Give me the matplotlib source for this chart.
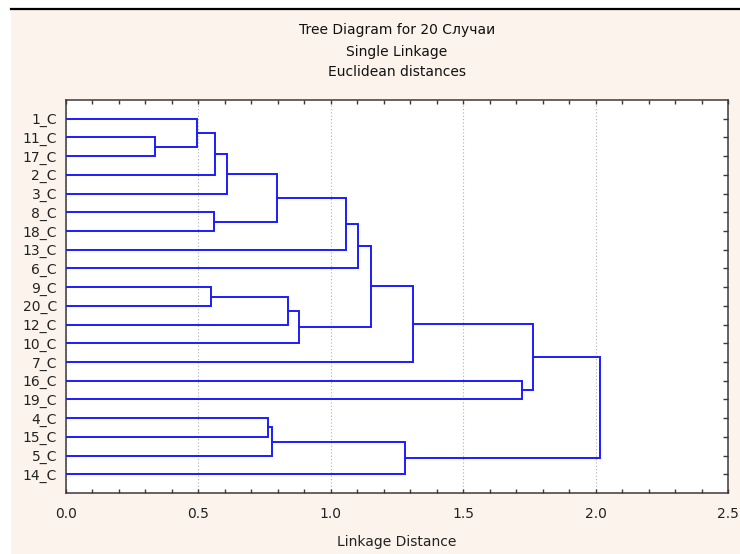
import matplotlib
matplotlib.use("Agg")
import matplotlib.pyplot as plt
from matplotlib.patches import Rectangle
from matplotlib.lines import Line2D
from matplotlib.ticker import MultipleLocator, FormatStrFormatter

# Leaf order from top to bottom
leaves = ['1_C', '11_C', '17_C', '2_C', '3_C', '8_C', '18_C', '13_C', '6_C',
          '9_C', '20_C', '12_C', '10_C', '7_C', '16_C', '19_C', '4_C', '15_C',
          '5_C', '14_C']

# Single-linkage merge steps: (first member, second member, distance).
# Members are leaf names or 'cK' for the cluster formed at step K (1-based).
merge_a = ['11_C', '1_C', '9_C', '8_C', 'c2', 'c5', '4_C', 'c7', 'c6', 'c3',
           'c10', 'c9', 'c12', 'c13', 'c8', 'c14', '16_C', 'c16', 'c18']
merge_b = ['17_C', 'c1', '20_C', '18_C', '2_C', '3_C', '15_C', '5_C', 'c4',
           '12_C', '10_C', '13_C', '6_C', 'c11', '14_C', '7_C', '19_C', 'c17',
           'c15']
merge_dist = [0.336, 0.495, 0.548, 0.558, 0.563, 0.607, 0.764, 0.779, 0.795,
              0.837, 0.880, 1.058, 1.102, 1.150, 1.280, 1.312, 1.723, 1.764,
              2.016]

title_lines = ['Tree Diagram for 20 Случаи', 'Single Linkage', 'Euclidean distances']
x_label = 'Linkage Distance'

FS = 10
W, H = 740, 554
fig = plt.figure(figsize=(W / 100, H / 100), dpi=100, facecolor='white')

# Peach panel with a dark rule across the top
fig.patches.append(Rectangle((11 / W, 0), 1 - 11 / W, 1 - 9 / H,
                             transform=fig.transFigure, facecolor='#fcf4ec',
                             edgecolor='none', zorder=-10))
fig.lines.append(Line2D([11 / W, 1], [1 - 8.5 / H, 1 - 8.5 / H],
                        transform=fig.transFigure, color='black', lw=1.6,
                        zorder=-5))

ax = fig.add_axes([66 / W, 1 - 493 / H, (728 - 66) / W, (493 - 100) / H])
ax.set_zorder(5)
ax.set_facecolor('white')

# Position of each node: leaves at 1..N, clusters at the midpoint of members
pos = {name: i + 1 for i, name in enumerate(leaves)}
hgt = {name: 0.0 for name in leaves}
line_kw = dict(color='#1c1cff', lw=1.4, solid_joinstyle='miter', zorder=3)
for k, (a, b, d) in enumerate(zip(merge_a, merge_b, merge_dist), start=1):
    ya, yb = pos[a], pos[b]
    ax.plot([hgt[a], d, d, hgt[b]], [ya, ya, yb, yb], **line_kw)
    pos[f'c{k}'] = (ya + yb) / 2
    hgt[f'c{k}'] = d

ax.set_xlim(0, 2.5)
ax.set_ylim(len(leaves) + 1, 0)
ax.set_yticks(range(1, len(leaves) + 1))
ax.set_yticklabels(leaves)
ax.xaxis.set_major_locator(MultipleLocator(0.5))
ax.xaxis.set_minor_locator(MultipleLocator(0.1))
ax.xaxis.set_major_formatter(FormatStrFormatter('%.1f'))

ax.grid(axis='x', which='major', linestyle=(0, (1, 2)), color='#b0b0b0', lw=0.8)

for s in ax.spines.values():
    s.set_color('#3a3a3a')
    s.set_linewidth(1.1)

ax.tick_params(axis='x', which='both', direction='in', top=True, bottom=True,
               color='#3a3a3a', width=1.0)
ax.tick_params(axis='x', which='major', length=3, pad=10, labelsize=FS,
               labelcolor='#222222')
ax.tick_params(axis='x', which='minor', length=3)
ax.tick_params(axis='y', which='major', direction='in', left=False, right=True,
               labelleft=True, length=3.5, width=1.0, color='#3a3a3a',
               pad=6.5, labelsize=FS, labelcolor='#222222')

ax.set_xlabel(x_label, fontsize=FS, color='#222222', labelpad=10)

for txt, y in zip(title_lines, [30, 52, 72]):
    fig.text(397 / W, 1 - y / H, txt, ha='center', va='center',
             fontsize=FS, color='#111111')

fig.savefig('out.png', dpi=100, facecolor=fig.get_facecolor())
